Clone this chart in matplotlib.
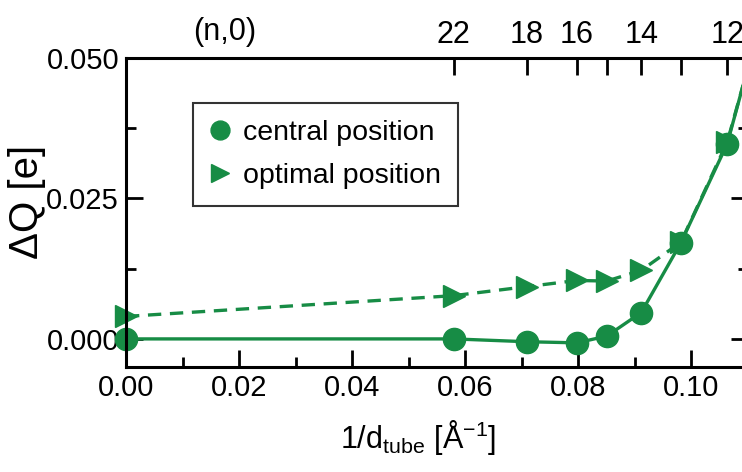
"""Charge transfer vs inverse tube diameter for (n,0) nanotubes."""

import matplotlib
matplotlib.use("Agg")
import matplotlib.pyplot as plt
from matplotlib.ticker import MultipleLocator

plt.rcParams["font.family"] = ["Liberation Sans", "DejaVu Sans"]
plt.rcParams["mathtext.default"] = "regular"

# data
inv_d = [0.0, 0.0580, 0.0709, 0.0798, 0.0851, 0.0912, 0.0982, 0.1064, 0.1161]
dq_central = [0.0, 0.0, -0.0005, -0.0007, 0.0005, 0.0047, 0.0171, 0.0347, 0.0706]
dq_optimal = [0.0040, 0.0077, 0.0093, 0.0104, 0.0103, 0.0122, 0.0172, 0.0350, 0.0700]

# top axis: (n,0) chirality index
top_ticks = [0.0, 0.0580, 0.0709, 0.0798, 0.0851, 0.0912, 0.0982, 0.1064]
top_labels = ["", "22", "18", "16", "", "14", "", "12"]

green = "#178c45"
fs = 21

fig = plt.figure(figsize=(7.42, 4.72), dpi=100)
ax = fig.add_axes([126 / 742, 105 / 472, 621.5 / 742, 309 / 472])

ax.plot(inv_d, dq_central, color=green, lw=2.4)
ax.plot(inv_d, dq_optimal, color=green, lw=2.4, linestyle=(0, (4, 2.6)))
ax.plot(inv_d, dq_central, "o", color=green, ms=16, clip_on=False, label="central position")
ax.plot(inv_d, dq_optimal, ">", color=green, ms=16, clip_on=False, label="optimal position")

ax.set_xlim(0, 0.11)
ax.set_ylim(-0.005, 0.05)
ax.xaxis.set_major_locator(MultipleLocator(0.02))
ax.xaxis.set_minor_locator(MultipleLocator(0.01))
ax.set_yticks([0.0, 0.025, 0.05])
ax.yaxis.set_minor_locator(MultipleLocator(0.0125))
ax.xaxis.set_major_formatter(lambda v, p: f"{v:.2f}")
ax.yaxis.set_major_formatter(lambda v, p: f"{v:.3f}")

ax.tick_params(which="both", direction="in", top=False, right=True, labelsize=fs, width=2)
ax.tick_params(which="major", length=12, pad=5)
ax.tick_params(which="minor", length=7)
for sp in ax.spines.values():
    sp.set_linewidth(2.2)

ax.set_xlabel("1/d$_{tube}$ [Å$^{-1}$]", fontsize=fs + 1)
ax.set_ylabel("ΔQ [e]", fontsize=29)
ax.xaxis.set_label_coords(0.47, -0.165)
ax.yaxis.set_label_coords(-0.128, 0.534)

top = ax.twiny()
top.set_xlim(ax.get_xlim())
top.set_xticks(top_ticks)
top.set_xticklabels(top_labels)
top.tick_params(direction="in", length=12, width=2, labelsize=fs + 1, pad=6)
top.text(0.0175, 1.035, "(n,0)", transform=top.get_xaxis_transform(),
         ha="center", va="bottom", fontsize=fs + 1)

leg = ax.legend(loc="upper left", bbox_to_anchor=(0.108, 0.854), borderaxespad=0,
                fontsize=fs - 0.5, frameon=True, fancybox=False, handlelength=0.7,
                handletextpad=0.45, borderpad=0.6, labelspacing=0.6, markerscale=0.85)
leg.get_frame().set_edgecolor("black")
leg.get_frame().set_linewidth(1.5)

fig.savefig("out.png", dpi=100)
